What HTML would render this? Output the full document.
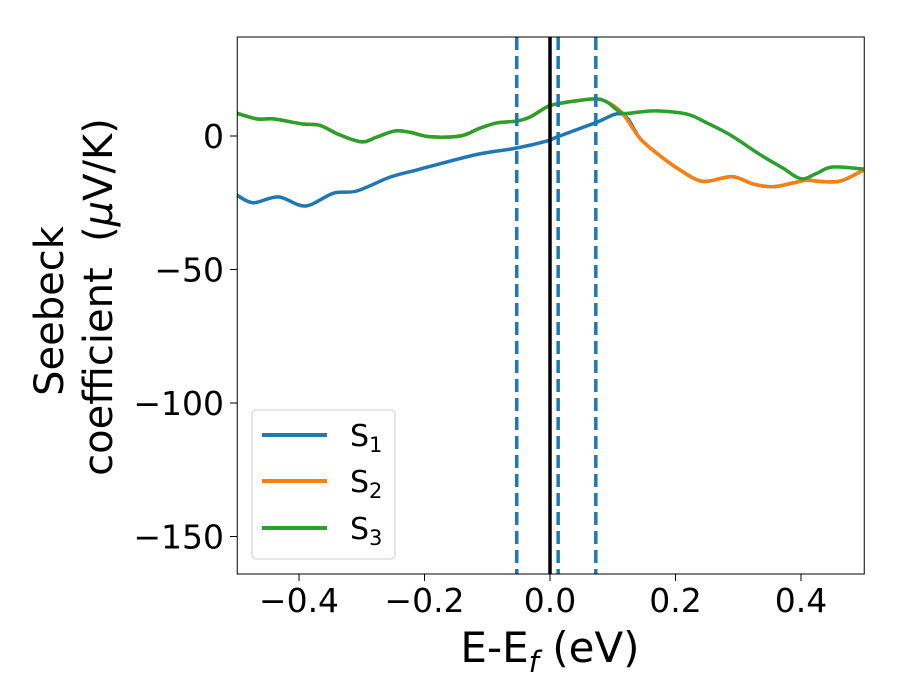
<!DOCTYPE html>
<html><head><meta charset="utf-8">
<style>
html,body{margin:0;padding:0;background:#fff;}
svg{display:block;font-family:"DejaVu Sans","Liberation Sans",sans-serif;}
</style></head>
<body>
<svg id="chart" width="900" height="700" viewBox="0 0 900 700">
<g id="grid"></g>
<g id="series" clip-path="url(#clip)"></g>
<defs><clipPath id="clip"><rect x="237" y="37" width="627" height="537"/></clipPath></defs>
<rect x="237.25" y="37" width="627" height="537" fill="none" stroke="#000" stroke-width="1"/>
<g id="ticks"></g>
<text x="550" y="662" font-size="42" text-anchor="middle">E-E<tspan font-style="italic" font-size="29" dy="10">f</tspan><tspan dy="-10"> (eV)</tspan></text>
<g>
<text transform="translate(63,311) rotate(-90)" x="0" y="0" font-size="40" text-anchor="middle">Seebeck</text>
<text transform="translate(112,297) rotate(-90)" x="0" y="0" font-size="40" text-anchor="middle">coefficient&#160; (<tspan font-style="italic">μ</tspan>V/K)</text>
</g>
<g>
<rect x="252" y="410" width="143" height="149" rx="4" fill="#fff" fill-opacity="0.8" stroke="#ccc"/>
<line x1="262" y1="435" x2="327" y2="435" stroke="#1f77b4" stroke-width="4"/>
<text x="350" y="446" font-size="30">S<tspan font-size="21" dy="6">1</tspan></text>
<line x1="262" y1="481" x2="327" y2="481" stroke="#ff7f0e" stroke-width="4"/>
<text x="350" y="492" font-size="30">S<tspan font-size="21" dy="6">2</tspan></text>
<line x1="262" y1="528" x2="327" y2="528" stroke="#2ca02c" stroke-width="4"/>
<text x="350" y="539" font-size="30">S<tspan font-size="21" dy="6">3</tspan></text>
</g>
</svg>
<script>
const s1x=[-0.5,-0.473,-0.433,-0.39,-0.345,-0.308,-0.255,-0.212,-0.164,-0.112,-0.053,-0.005,0.011,0.072,0.115,0.143,0.17,0.207,0.244,0.29,0.324,0.356,0.387,0.41,0.425,0.462,0.5];
const s1y=[-22,-25,-22.8,-26.2,-21.4,-20.6,-15.4,-12.7,-9.7,-6.7,-4.5,-1.9,-0.4,4.9,8.2,-0.8,-6.4,-12.7,-17,-15.2,-18,-19,-17.6,-16.5,-16.9,-16.9,-12.7];
const s2x=[-0.5,-0.467,-0.441,-0.394,-0.367,-0.335,-0.3,-0.276,-0.247,-0.223,-0.191,-0.143,-0.112,-0.085,-0.053,-0.032,-0.005,0.011,0.037,0.072,0.091,0.115,0.143,0.17,0.207,0.244,0.29,0.324,0.356,0.387,0.41,0.425,0.462,0.5];
const s2y=[8.6,6.4,6.4,4.5,4,0.4,-2.2,-0.4,1.9,1.4,-0.3,0,2.9,4.9,5.6,7.1,10.9,12,13,13.9,12.7,8.6,-0.8,-6.4,-12.7,-17,-15.2,-18,-19,-17.6,-16.5,-16.9,-16.9,-12.7];
const s3x=[-0.5,-0.467,-0.441,-0.394,-0.367,-0.335,-0.3,-0.276,-0.247,-0.223,-0.191,-0.143,-0.112,-0.085,-0.053,-0.032,-0.005,0.011,0.037,0.072,0.091,0.115,0.143,0.17,0.218,0.25,0.287,0.335,0.371,0.4,0.425,0.45,0.5];
const s3y=[8.6,6.4,6.4,4.5,4,0.4,-2.2,-0.4,1.9,1.4,-0.3,0,2.9,4.9,5.6,7.1,10.9,12,13,13.9,12.7,8.6,9,9.4,8.2,4.9,0.4,-7,-12,-16,-14,-11.6,-12.4];
const vlines=[-0.053,0.013,0.073];
const xTicks=[-0.4,-0.2,0.0,0.2,0.4];
const xTickLabels=["\u22120.4","\u22120.2","0.0","0.2","0.4"];
const yTicks=[0,-50,-100,-150];
const yTickLabels=["0","\u221250","\u2212100","\u2212150"];

const NS="http://www.w3.org/2000/svg";
const X=v=>550+v*627.5;
const Y=v=>136-v*2.67;
function mk(tag,attrs,parent){const e=document.createElementNS(NS,tag);for(const k in attrs)e.setAttribute(k,attrs[k]);parent.appendChild(e);return e;}
function smooth(xs,ys){
  const p=xs.map((x,i)=>[X(x),Y(ys[i])]);
  let d="M"+p[0][0]+","+p[0][1];
  for(let i=0;i<p.length-1;i++){
    const p0=p[Math.max(0,i-1)],p1=p[i],p2=p[i+1],p3=p[Math.min(p.length-1,i+2)];
    const c1=[p1[0]+(p2[0]-p0[0])/6,p1[1]+(p2[1]-p0[1])/6];
    const c2=[p2[0]-(p3[0]-p1[0])/6,p2[1]-(p3[1]-p1[1])/6];
    d+=" C"+c1+" "+c2+" "+p2;
  }
  return d;
}
const g=document.getElementById("series");
const l1=mk("path",{d:smooth(s1x,s1y),fill:"none",stroke:"#1f77b4","stroke-width":3.5},g);


const l2=mk("path",{d:smooth(s2x,s2y),fill:"none",stroke:"#ff7f0e","stroke-width":3.5},g);


const l3=mk("path",{d:smooth(s3x,s3y),fill:"none",stroke:"#2ca02c","stroke-width":3.5},g);


const z=mk("line",{x1:X(0),x2:X(0),y1:37,y2:574,stroke:"#000","stroke-width":3.5},g);


vlines.forEach((v,i)=>{
  const l=mk("line",{x1:X(v),x2:X(v),y1:37,y2:574,stroke:"#1f77b4","stroke-width":3.5,"stroke-dasharray":"13,6"},g);
  
  
});
const t=document.getElementById("ticks");
xTicks.forEach((v,i)=>{
  mk("line",{x1:X(v),x2:X(v),y1:574,y2:581,stroke:"#000"},t);
  const tx=mk("text",{x:X(v),y:612,"font-size":33,"text-anchor":"middle"},t);
  tx.textContent=xTickLabels[i];
  
  
});
yTicks.forEach((v,i)=>{
  mk("line",{x1:230,x2:237,y1:Y(v),y2:Y(v),stroke:"#000"},t);
  const tx=mk("text",{x:224,y:Y(v)+12,"font-size":33,"text-anchor":"end"},t);
  tx.textContent=yTickLabels[i];
  
  
});
</script>
</body></html>
